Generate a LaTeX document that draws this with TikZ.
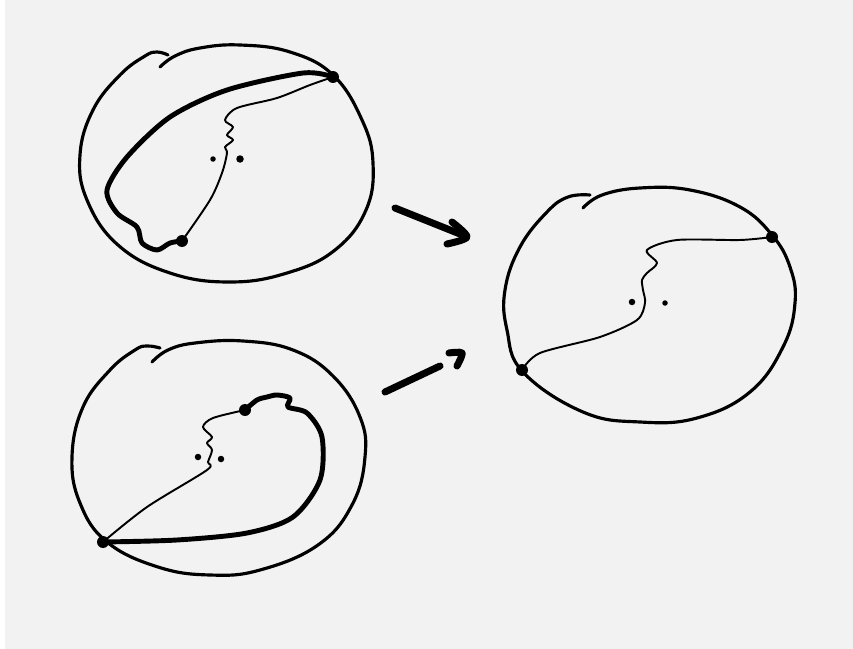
\documentclass[tikz,border=0pt]{standalone}
\usepackage{tikz}
\usetikzlibrary{positioning}
\definecolor{paper}{HTML}{F2F2F2}

\begin{document}
\begin{tikzpicture}[x=0.02cm, y=-0.02cm,
    rim/.style={line width=1.8pt, line cap=round, line join=round},
    strand/.style={line width=1.1pt, line cap=round, line join=round},
    lasso/.style={line width=2.8pt, line cap=round, line join=round},
    shove/.style={line width=4pt, line cap=round, line join=round},
    marked/.style={circle, fill=black, inner sep=0pt, minimum size=0.24cm},
    puncture/.style={circle, fill=black, inner sep=0pt, minimum size=#1},
    puncture/.default=0.13cm]

    \fill[paper] (0,0) rectangle (853,649);
    \fill[white] (0,0) rectangle (5,649);
    \useasboundingbox (0,0) rectangle (853,649);

    % top left disc
    \draw[rim] plot[smooth, tension=0.7] coordinates {(160,67) (175,56) (200,48) (240,45) (290,52)
        (333,75) (362,120) (373,163) (366,210) (335,250) (287,273) (230,282) (170,273)
        (118,245) (87,200) (80,155) (93,110) (120,75) (145,56) (157,52) (168,55)};
    \node[marked] (p1a) at (333,77) {};
    \node[marked] (p1b) at (182,241) {};
    \node[puncture=0.11cm] (q1a) at (213,159) {};
    \node[puncture=0.15cm] (q1b) at (240,159) {};
    \draw[strand] plot[smooth] coordinates {(p1a) (310,85) (277,98) (237,108) (225,120)
        (233,127) (227,135) (233,140) (225,147) (227,153) (222,173) (210,200) (p1b)};
    \draw[lasso] plot[smooth] coordinates {(p1a) (303,73) (227,90) (170,117) (127,157)
        (107,190) (117,213) (137,227) (142,243) (157,250) (170,243) (p1b)};

    % bottom left disc
    \draw[rim] plot[smooth, tension=0.7] coordinates {(152,362) (168,350) (195,343) (243,341) (293,350)
        (333,376) (360,417) (365,457) (352,505) (318,545) (260,570) (210,575) (158,567)
        (107,542) (80,503) (72,457) (83,407) (110,370) (135,350) (147,346) (160,348)};
    \node[marked] (p2a) at (103,542) {};
    \node[marked] (p2b) at (245,410) {};
    \node[puncture] (q2a) at (198,457) {};
    \node[puncture] (q2b) at (221,459) {};
    \draw[strand] plot[smooth] coordinates {(p2a) (147,507) (207,470) (208,462) (212,450)
        (207,443) (212,437) (203,427) (213,418) (p2b)};
    \draw[lasso] plot[smooth] coordinates {(p2b) (257,400) (267,397) (277,395) (290,398)
        (288,407) (307,413) (322,437) (320,480) (293,517) (247,533) (177,540) (p2a)};

    % right disc
    \draw[rim] plot[smooth, tension=0.7] coordinates {(583,208) (602,195) (640,188) (690,190) (740,207)
        (772,235) (790,267) (795,303) (783,347) (750,392) (697,418) (640,422) (583,412)
        (523,372) (507,330) (505,290) (520,247) (547,212) (568,197) (590,195)};
    \node[marked] (p3a) at (772,237) {};
    \node[marked] (p3b) at (522,370) {};
    \node[puncture] (q3a) at (632,302) {};
    \node[puncture=0.11cm] (q3b) at (665,303) {};
    \draw[strand] plot[smooth] coordinates {(p3a) (740,240) (677,240) (647,250) (657,263)
        (647,273) (642,280) (643,290) (645,303) (637,320) (600,337) (540,353) (p3b)};

    % arrows
    \draw[shove] (395,208) -- (465,236);
    \draw[shove] plot[smooth] coordinates {(452,222) (467,237) (447,244)};
    \draw[shove] (385,392) -- (440,366);
    \draw[shove] plot[smooth] coordinates {(449,353) (462,353) (457,366)};

\end{tikzpicture}
\end{document}
